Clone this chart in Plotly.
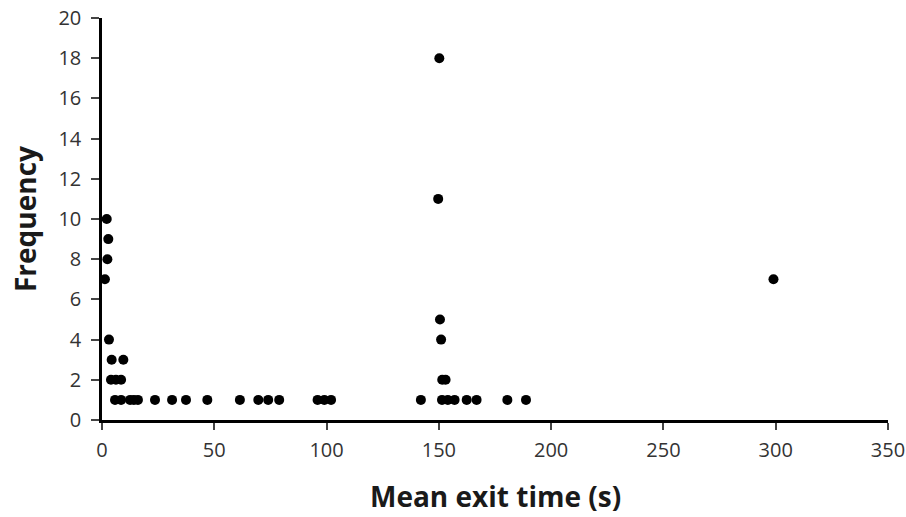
import plotly.graph_objects as go

# Mean exit time (s) and frequency
exit_time = [2.1, 2.8, 2.4, 1.3, 3.1, 4.3, 9.5, 4.0, 6.2, 8.5,
             5.8, 8.5, 12.5, 14.2, 16.0, 23.6, 31.2, 37.4, 46.9, 61.4,
             69.6, 74.0, 78.9, 96.0, 99.0, 102.0, 142.0, 151.4, 154.0, 157.0,
             162.4, 166.8, 180.5, 188.8, 150.2, 149.7, 150.5, 151.0, 151.5, 153.0,
             299.0]
frequency = [10, 9, 8, 7, 4, 3, 3, 2, 2, 2,
             1, 1, 1, 1, 1, 1, 1, 1, 1, 1,
             1, 1, 1, 1, 1, 1, 1, 1, 1, 1,
             1, 1, 1, 1, 18, 11, 5, 4, 2, 2,
             7]

x_ticks = [0, 50, 100, 150, 200, 250, 300, 350]
y_ticks = [0, 2, 4, 6, 8, 10, 12, 14, 16, 18, 20]
x_title = "Mean exit time (s)"
y_title = "Frequency"

fig = go.Figure(go.Scatter(
    x=exit_time, y=frequency, mode="markers",
    marker=dict(color="black", size=10, line=dict(width=0)),
    showlegend=False, cliponaxis=False,
))

font_family = "Open Sans, Liberation Sans, sans-serif"
fig.update_layout(
    width=906, height=517,
    margin=dict(l=102, r=18, t=18, b=97),
    plot_bgcolor="white", paper_bgcolor="white",
    font=dict(family=font_family, color="#222"),
    annotations=[
        dict(text="<b>" + x_title + "</b>", xref="paper", yref="paper",
             x=0.5, y=0, yshift=-76, xanchor="center", yanchor="middle",
             showarrow=False, font=dict(size=28, color="#1a1a1a")),
        dict(text="<b>" + y_title + "</b>", xref="paper", yref="paper",
             x=0, y=0.5, xshift=-77, xanchor="center", yanchor="middle", textangle=-90,
             showarrow=False, font=dict(size=28, color="#1a1a1a")),
    ],
)
fig.update_xaxes(
    range=[0, 350], tickvals=x_ticks, ticktext=[str(v) for v in x_ticks],
    showgrid=False, zeroline=False, showline=True, linecolor="black", linewidth=2.5,
    ticks="outside", ticklen=7, tickcolor="#444", tickwidth=1.5,
    ticklabelstandoff=3, ticklabeloverflow="allow",
    tickfont=dict(size=20, color="#333"), automargin=False,
)
fig.update_yaxes(
    range=[0, 20], tickvals=y_ticks, ticktext=[str(v) for v in y_ticks],
    showgrid=False, zeroline=False, showline=True, linecolor="black", linewidth=2.5,
    ticks="outside", ticklen=8, tickcolor="#444", tickwidth=1.5,
    ticklabelstandoff=6, ticklabeloverflow="allow",
    tickfont=dict(size=20, color="#333"), automargin=False,
)

# remove the page's default 8px body margin so the figure sits at (0, 0)
fig.write_html("out.html", config={"displayModeBar": False},
               post_script="document.body.style.margin='0';")
